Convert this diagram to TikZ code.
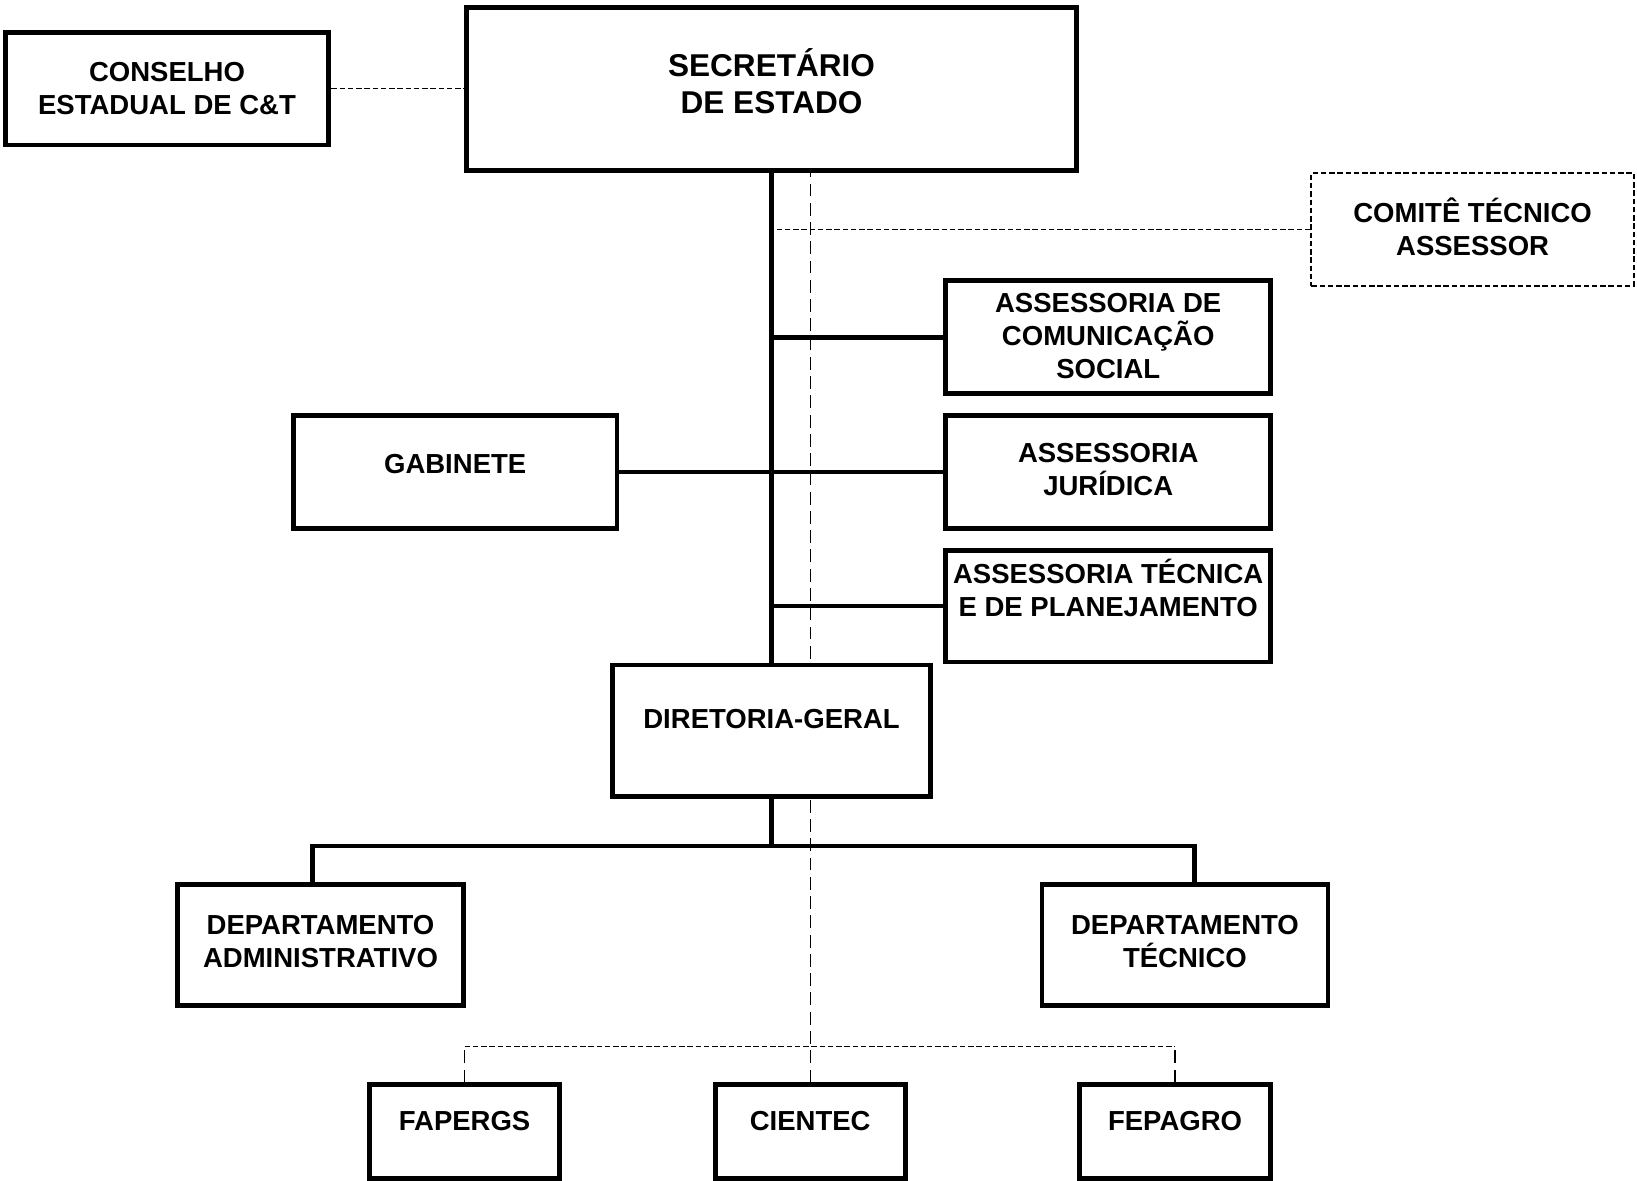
\documentclass[tikz,border=0pt]{standalone}
\usepackage{fontspec}
\setmainfont{Liberation Sans}
\usetikzlibrary{fit,backgrounds}
\tikzset{%
    box/.style={draw, line width=2.6pt, fill=white, inner sep=0pt},
    dbox/.style={draw, line width=1pt, dash pattern=on 3pt off 1.5pt, fill=white, inner sep=0pt},
    txt/.style={font=\fontsize{15}{18}\selectfont\bfseries, align=center},
    bigtxt/.style={font=\fontsize{17.2}{20}\selectfont\bfseries, align=center},
    link/.style={line width=2.6pt},
    hdash/.style={line width=0.6pt, dash pattern=on 3pt off 1.5pt},
    vdash/.style={line width=0.6pt, dash pattern=on 7pt off 3.5pt}
}

\begin{document}
\begin{tikzpicture}[x=0.02cm, y=-0.02cm]
\useasboundingbox (0,0) rectangle (1568,1131);

% top
\node[box, fit={(5,31)(315,139)}, label={[txt]center:{CONSELHO\\ESTADUAL DE C\&T}}] (cons) {};
\node[box, fit={(447,7)(1031,163)}, label={[bigtxt, yshift=0.15cm]center:{SECRETÁRIO\\DE ESTADO}}] (sec) {};
\node[dbox, fit={(1256,166)(1565,274)}, label={[txt, yshift=0.05cm]center:{COMITÊ TÉCNICO\\ASSESSOR}}] (ct) {};

% assessorias
\node[box, fit={(906,269)(1217,377)}, label={[txt, yshift=0.03cm]center:{ASSESSORIA DE\\COMUNICAÇÃO\\SOCIAL}}] (acs) {};
\node[box, fit={(281,398)(591,506)}, label={[txt, yshift=0.16cm]center:GABINETE}] (gab) {};
\node[box, fit={(906,398)(1217,506)}, label={[txt, yshift=0.05cm]center:{ASSESSORIA\\JURÍDICA}}] (aj) {};
\node[box, fit={(906,527)(1217,634)}, label={[txt, yshift=0.34cm]center:{ASSESSORIA TÉCNICA\\E DE PLANEJAMENTO}}] (atp) {};

% diretoria
\node[box, fit={(587,637)(891,763)}, label={[txt, yshift=0.22cm]center:DIRETORIA-GERAL}] (dg) {};
\node[box, fit={(170,847)(444,963)}, label={[txt, yshift=0.07cm]center:{DEPARTAMENTO\\ADMINISTRATIVO}}] (dadm) {};
\node[box, fit={(998,847)(1272,963)}, label={[txt, yshift=0.07cm]center:{DEPARTAMENTO\\TÉCNICO}}] (dtec) {};

% vinculadas
\node[box, fit={(354,1039)(536,1129)}, label={[txt, yshift=0.2cm]center:FAPERGS}] (fap) {};
\node[box, fit={(685,1039)(867,1129)}, label={[txt, yshift=0.2cm]center:CIENTEC}] (cien) {};
\node[box, fit={(1034,1039)(1217,1129)}, label={[txt, yshift=0.2cm]center:FEPAGRO}] (fep) {};

\coordinate (bar) at ([yshift=-0.9cm]dg.south);

\begin{scope}[on background layer]
\draw[link] (sec.south) -- (dg.north);
\draw[link] (acs.west) -- (acs.west -| sec.south);
\draw[link] (gab.east) -- (aj.west);
\draw[link] (atp.west) -- (atp.west -| sec.south);
\draw[link] (dg.south) -- (bar);
\draw[link] ([xshift=-0.16cm]dadm.north) |- (bar) -| ([xshift=0.18cm]dtec.north);

\draw[hdash] (cons.east) -- (sec.west);
\draw[hdash] (ct.west) -- (ct.west -| sec.south);
\draw[vdash] (cien.north) -- (cien.north |- sec.south);
\draw[hdash] ([yshift=0.68cm]fap.north) -- ([yshift=0.68cm]fep.north);
\draw[vdash] (fap.north) -- ++(0,-34);
\draw[vdash] (fep.north) -- ++(0,-34);
\end{scope}
\end{tikzpicture}
\end{document}
